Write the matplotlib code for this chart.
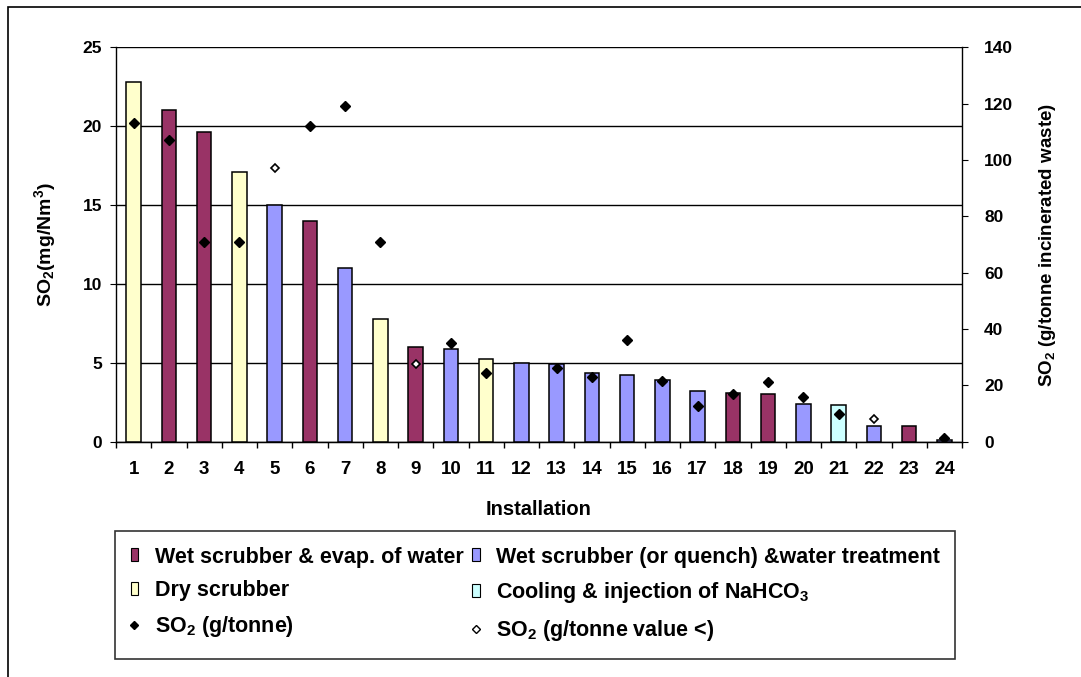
import numpy as np
import matplotlib
matplotlib.use("Agg")
import matplotlib.pyplot as plt
from matplotlib.patches import Patch, Rectangle
from matplotlib.lines import Line2D

plt.rcParams['font.family'] = ['Liberation Sans', 'DejaVu Sans']
plt.rcParams['font.weight'] = 'bold'
plt.rcParams['mathtext.fontset'] = 'custom'
plt.rcParams['mathtext.rm'] = 'Liberation Sans:bold'
plt.rcParams['mathtext.bf'] = 'Liberation Sans:bold'
plt.rcParams['mathtext.it'] = 'Liberation Sans:bold'
plt.rcParams['mathtext.default'] = 'bf'

# ---- data ----
installations = list(range(1, 25))
so2_mg = [22.8, 21.0, 19.6, 17.1, 15.0, 14.0, 11.0, 7.75, 6.0, 5.9, 5.25, 5.0,
          4.9, 4.35, 4.2, 3.9, 3.2, 3.1, 3.0, 2.4, 2.3, 1.0, 1.0, 0.1]
technique = ['dry', 'wet_evap', 'wet_evap', 'dry', 'wet_treat', 'wet_evap', 'wet_treat', 'dry',
             'wet_evap', 'wet_treat', 'dry', 'wet_treat', 'wet_treat', 'wet_treat', 'wet_treat',
             'wet_treat', 'wet_treat', 'wet_evap', 'wet_evap', 'wet_treat', 'cooling', 'wet_treat',
             'wet_evap', 'wet_treat']
nan = np.nan
so2_gt = [113, 107, 71, 71, nan, 112, 119, 71, nan, 35, 24.5, nan,
          26, 23, 36, 21.5, 12.7, 17, 21.2, 16, 10, nan, nan, 1.3]
so2_gt_less = [nan, nan, nan, nan, 97, nan, nan, nan, 27.5, nan, nan, nan,
               nan, nan, nan, nan, nan, nan, nan, nan, nan, 8.2, nan, nan]

colors = {'wet_evap': '#993366', 'wet_treat': '#9999FF', 'dry': '#FFFFCC', 'cooling': '#CCFFFF'}
labels = {'wet_evap': 'Wet scrubber & evap. of water',
          'wet_treat': 'Wet scrubber (or quench) &water treatment',
          'dry': 'Dry scrubber',
          'cooling': r'Cooling & injection of NaHCO$_3$'}

W, H = 1081, 677
fig = plt.figure(figsize=(W / 100, H / 100), dpi=100)
ax = fig.add_axes([116 / W, 1 - 441.7 / H, (962 - 116) / W, (441.7 - 47.3) / H])

ax.bar(installations, so2_mg, width=0.41, color=[colors[t] for t in technique],
       edgecolor='black', linewidth=1.1, zorder=3)
ax.set_xlim(0.5, 24.5)
ax.set_ylim(0, 25)
ax.set_yticks(range(0, 26, 5))
ax.set_xticks(installations)
ax.set_xticks(np.arange(0.5, 25, 1), minor=True)
ax.tick_params(axis='x', which='major', length=0, pad=14, labelsize=13.5)
ax.tick_params(axis='x', which='minor', length=4, direction='out', width=1)
ax.tick_params(axis='y', length=4, direction='out', labelsize=12.5, pad=6)
ax.grid(axis='y', color='black', linewidth=1.0, zorder=0)
ax.spines['top'].set_visible(False)
ax.spines['left'].set_linewidth(1.0)
ax.spines['bottom'].set_linewidth(1.0)
ax.spines['right'].set_visible(False)
ax.set_xlabel('Installation', fontsize=14.5, fontweight='bold', labelpad=16)
ax.set_ylabel(r'SO$_2$(mg/Nm$^3$)', fontsize=14, fontweight='bold', labelpad=18)

ax2 = ax.twinx()
ax2.set_ylim(0, 140)
ax2.set_yticks(range(0, 141, 20))
ax2.tick_params(axis='y', length=4, direction='out', labelsize=12.5, pad=12)
ax2.spines['right'].set_linewidth(1.0)
ax2.spines['top'].set_visible(False)
ax2.spines['left'].set_visible(False)
ax2.plot(installations, so2_gt, linestyle='none', marker='D', markersize=5.5,
         color='black', zorder=5)
ax2.plot(installations, so2_gt_less, linestyle='none', marker='D', markersize=4.5,
         markerfacecolor='white', markeredgecolor='black', markeredgewidth=1.2, zorder=5)
ax2.set_ylabel(r'SO$_2$ (g/tonne incinerated waste)', fontsize=13.5, fontweight='bold',
               labelpad=17)
for lab in ax.get_xticklabels() + ax.get_yticklabels() + ax2.get_yticklabels():
    lab.set_fontweight('bold')

# outer frame
fig.patches.append(Rectangle((8 / W, -0.1), 1.2, 1 - 7 / H + 0.1, transform=fig.transFigure,
                             fill=False, edgecolor='black', linewidth=1.2, clip_on=False))

handles = [Patch(facecolor=colors['wet_evap'], edgecolor='black', linewidth=0.8),
           Patch(facecolor=colors['dry'], edgecolor='black', linewidth=0.8),
           Line2D([], [], linestyle='none', marker='D', markersize=4.5, color='black'),
           Patch(facecolor=colors['wet_treat'], edgecolor='black', linewidth=0.8),
           Patch(facecolor=colors['cooling'], edgecolor='black', linewidth=0.8),
           Line2D([], [], linestyle='none', marker='D', markersize=4, markerfacecolor='white',
                  markeredgecolor='black', markeredgewidth=1.0)]
leg_labels = [labels['wet_evap'], labels['dry'], r'SO$_2$ (g/tonne)',
              labels['wet_treat'], labels['cooling'], r'SO$_2$ (g/tonne value <)']
leg = fig.legend(handles, leg_labels, ncol=2, loc='upper left',
                 bbox_to_anchor=(115 / W, 1 - 531 / H),
                 prop={'weight': 'bold', 'size': 15.5}, frameon=True, fancybox=False,
                 edgecolor='black', handlelength=0.37, handleheight=0.55, handletextpad=0.75,
                 labelspacing=0.6, borderpad=0.72, borderaxespad=0, columnspacing=0.4)
leg.get_frame().set_linewidth(1.2)

fig.savefig('out.png', dpi=100, facecolor='white')
